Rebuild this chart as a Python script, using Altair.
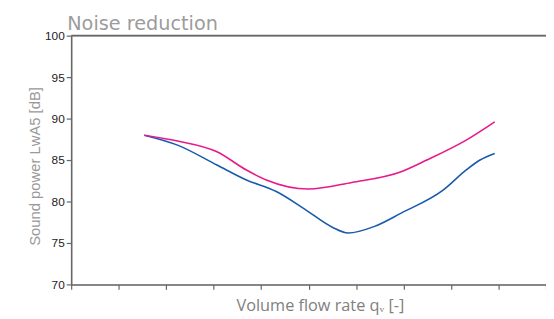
import altair as alt
import pandas as pd

# Data (x in flow-rate units 0..10, y in dB)
blue_x = [1.54, 2.24, 3.07, 3.69, 4.32, 4.94, 5.50, 5.83, 6.39, 6.95, 7.84, 8.32, 8.61, 8.92]
blue_y = [88.0, 86.8, 84.4, 82.6, 81.2, 79.0, 76.9, 76.2, 77.0, 78.6, 81.4, 83.8, 85.0, 85.8]
pink_x = [1.54, 2.24, 3.07, 3.69, 4.11, 5.00, 5.91, 6.95, 7.49, 8.32, 8.92]
pink_y = [88.0, 87.3, 86.0, 83.8, 82.6, 81.5, 82.3, 83.6, 85.0, 87.4, 89.6]
series = ["blue", "pink"]
colors = ["#1a5aab", "#e8198b"]
y_ticks = [70, 75, 80, 85, 90, 95, 100]
x_ticks = list(range(0, 11))
title_text = "Noise reduction"

rows = [{"s": "blue", "x": a, "y": b} for a, b in zip(blue_x, blue_y)]
rows += [{"s": "pink", "x": a, "y": b} for a, b in zip(pink_x, pink_y)]
df = pd.DataFrame(rows)

x_scale = alt.Scale(domain=[0, 10], nice=False)
y_scale = alt.Scale(domain=[70, 100], nice=False)

lines = alt.Chart(df).mark_line(strokeWidth=1.6, interpolate="monotone").encode(
    x=alt.X("x:Q", scale=x_scale,
            axis=alt.Axis(values=x_ticks, labels=False, grid=False, tickSize=5,
                          tickColor="#666", domainColor="#666", domainWidth=1.6, tickWidth=1.2,
                          title="Volume flow rate q\u1d65 [-]", titleColor="#808080", titleFontSize=16.5,
                          titleFont="Open Sans", titleFontWeight="normal",
                          titleX=252, titleY=26, titleAlign="center", titleBaseline="alphabetic")),
    y=alt.Y("y:Q", scale=y_scale,
            axis=alt.Axis(values=y_ticks, grid=False, tickSize=5, tickColor="#666",
                          tickWidth=1.2, domainColor="#666", domainWidth=1.6,
                          labelColor="#222", labelFontSize=12, labelFont="Liberation Sans",
                          labelPadding=2,
                          title="Sound power LwA5 [dB]", titleColor="#999", titleFontSize=15,
                          titleFont="Liberation Sans", titleFontWeight="normal",
                          titleX=-37, titleY=132, titleAngle=-90,
                          titleAlign="center", titleBaseline="middle")),
    color=alt.Color("s:N", scale=alt.Scale(domain=series, range=colors), legend=None),
)

top = alt.Chart(pd.DataFrame({"y": [100]})).mark_rule(color="#666", strokeWidth=1.6).encode(
    y=alt.Y("y:Q", scale=y_scale)
)

title = alt.Chart(pd.DataFrame({"t": [title_text]})).mark_text(
    align="left", baseline="alphabetic", fontSize=19.5, font="DejaVu Sans", color="#9c9c9c"
).encode(x=alt.value(-4), y=alt.value(-6), text="t:N")

chart = alt.layer(lines, top, title).properties(
    width=481, height=252,
    autosize=alt.AutoSizeParams(type="none"),
    padding={"left": 64, "top": 26, "right": 0, "bottom": 33},
).configure_view(stroke="#ccc", strokeWidth=1)

chart.save("out.html", embed_options={"renderer": "svg", "actions": False})
